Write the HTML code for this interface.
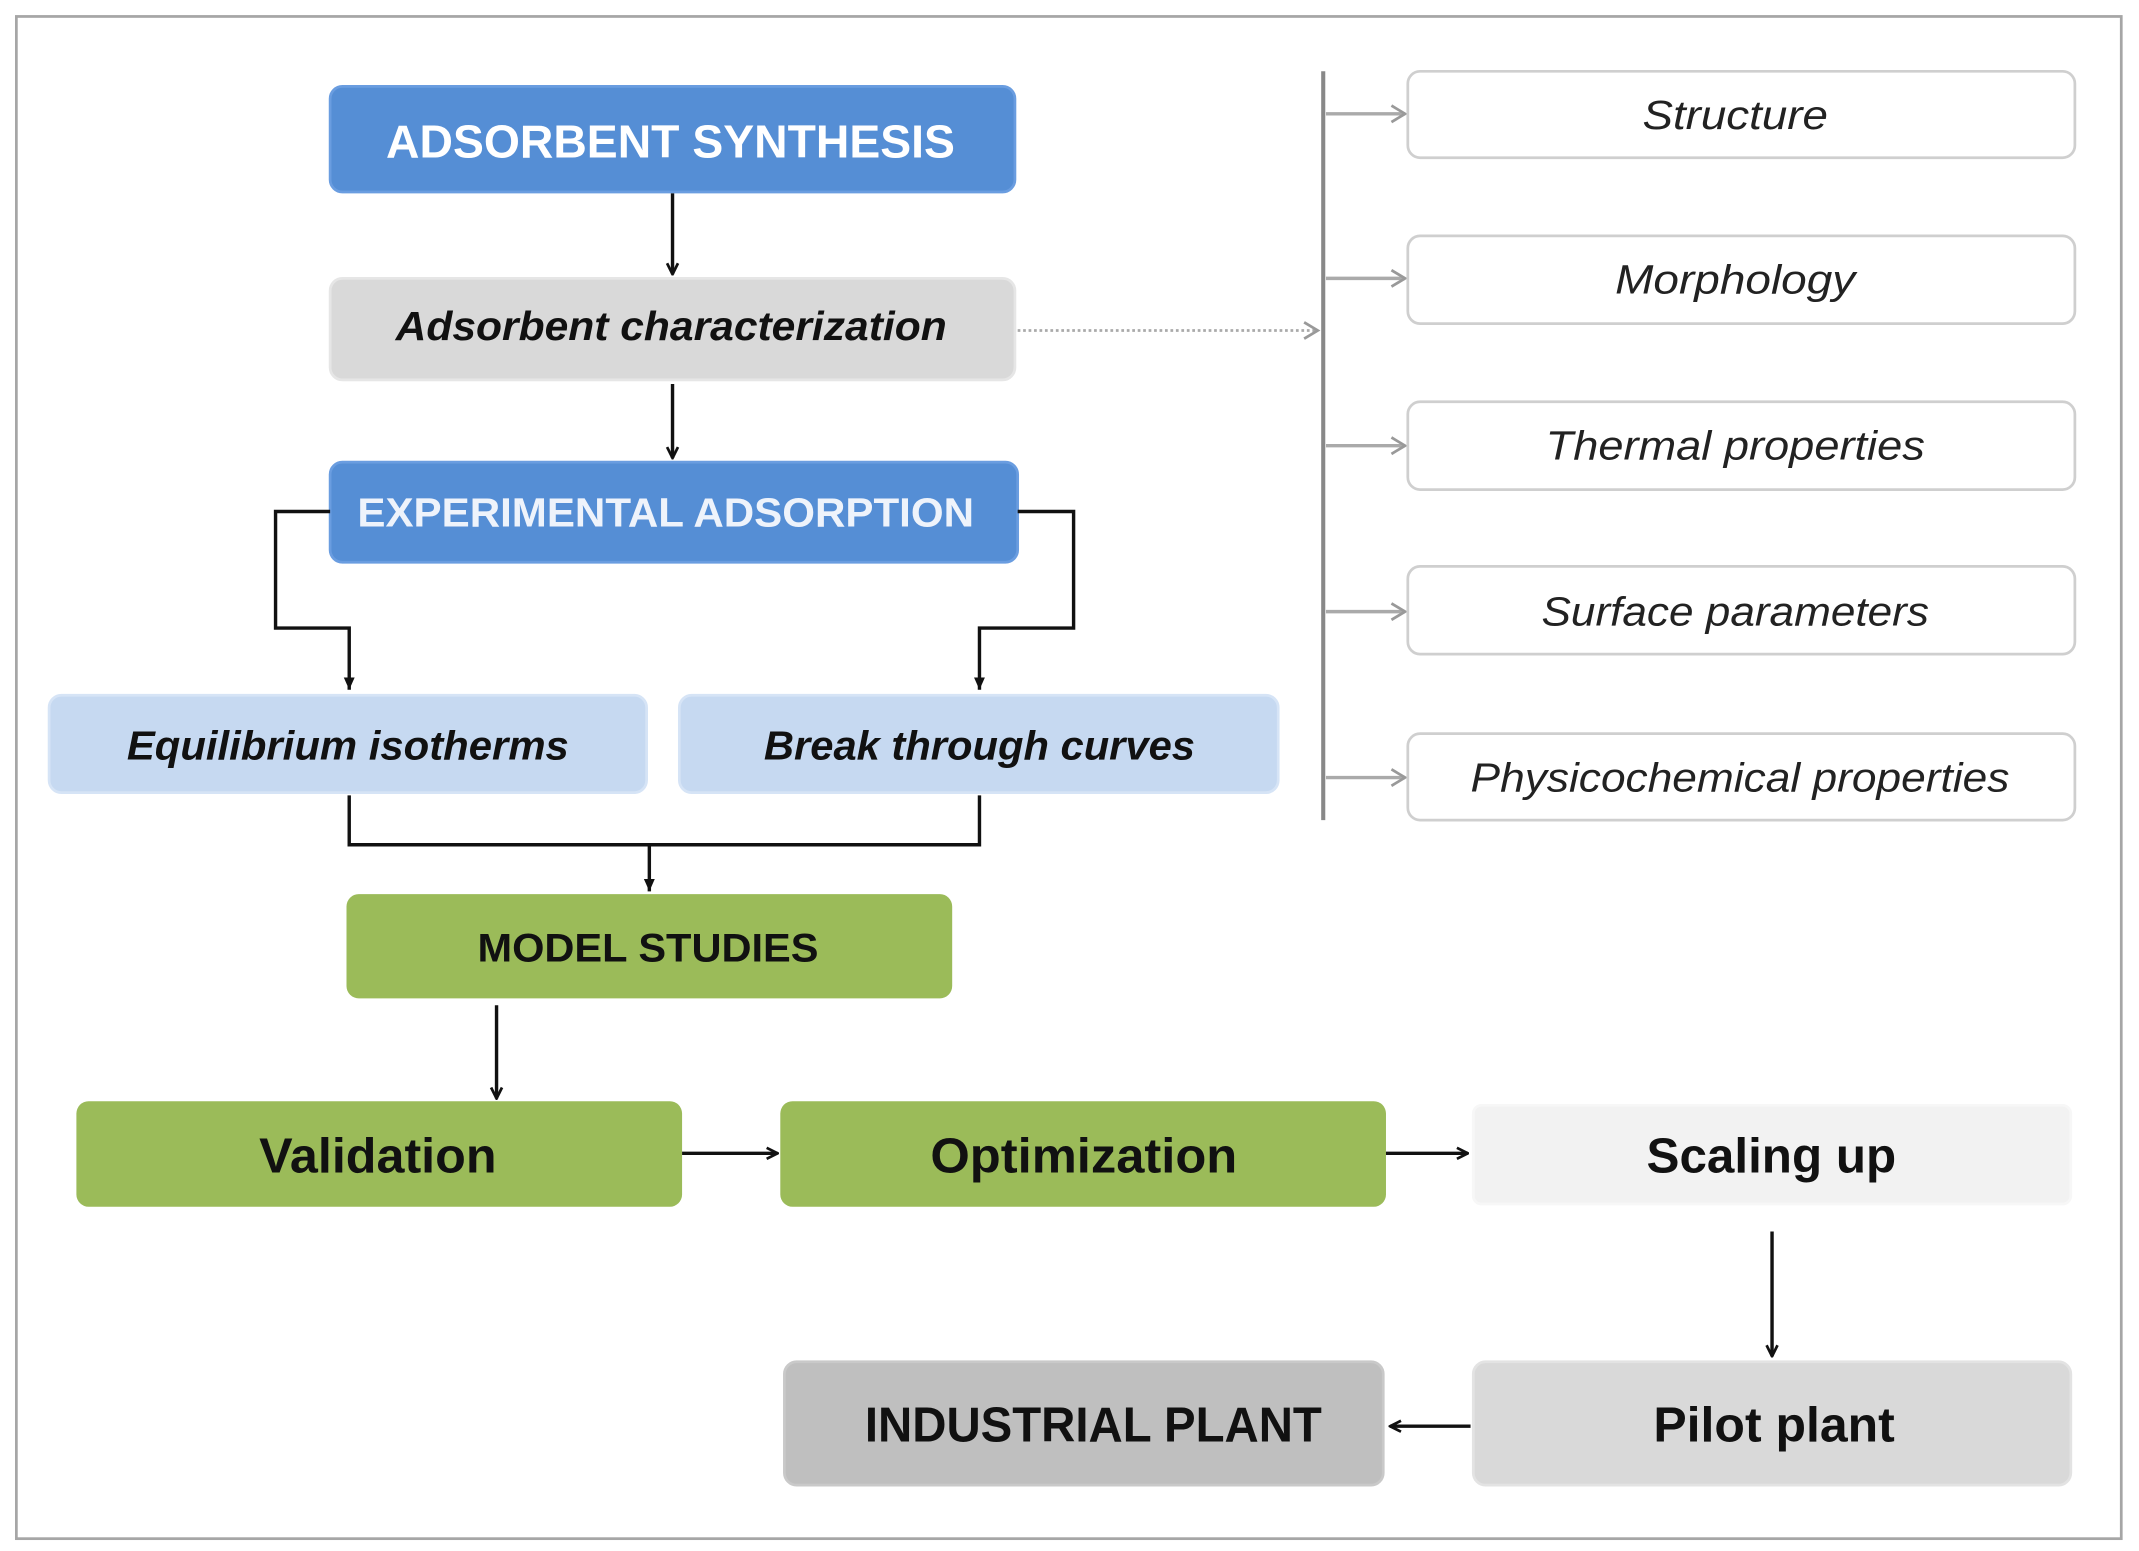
<!DOCTYPE html>
<html><head><meta charset="utf-8"><style>html,body{margin:0;padding:0;background:#fff}svg{display:block}</style></head>
<body>
<svg width="2139" height="1551" viewBox="0 0 1568 1131" preserveAspectRatio="none" xmlns="http://www.w3.org/2000/svg" font-family="Liberation Sans, sans-serif">
<defs>
<marker id="ab" markerWidth="10" markerHeight="10" refX="9" refY="5" orient="auto" markerUnits="userSpaceOnUse"><path d="M1,1 L9,5 L1,9" fill="none" stroke="#111" stroke-width="2"/></marker>
<marker id="af" markerWidth="10" markerHeight="10" refX="9" refY="5" orient="auto" markerUnits="userSpaceOnUse"><path d="M0,1 L9,5 L0,9 Z" fill="#111"/></marker>
<marker id="ag" markerWidth="14" markerHeight="14" refX="12" refY="7" orient="auto" markerUnits="userSpaceOnUse"><path d="M2,1 L12,7 L2,13" fill="none" stroke="#999" stroke-width="2"/></marker>
</defs>
<rect x="12" y="12" width="1543" height="1110" fill="#fff" stroke="#a6a6a6" stroke-width="2"/>

<!-- left column boxes -->
<rect x="242" y="63" width="502" height="77" rx="9" fill="#558ed5" stroke="#6a9de0" stroke-width="2"/>
<text x="283" y="115" textLength="417" lengthAdjust="spacingAndGlyphs" font-size="34" font-weight="bold" fill="#fff">ADSORBENT SYNTHESIS</text>

<rect x="242" y="203" width="502" height="74" rx="9" fill="#d9d9d9" stroke="#e6e6e6" stroke-width="2"/>
<text x="290" y="248" textLength="404" lengthAdjust="spacingAndGlyphs" font-size="30" font-weight="bold" font-style="italic" fill="#111">Adsorbent characterization</text>

<rect x="242" y="337" width="504" height="73" rx="9" fill="#558ed5" stroke="#6a9de0" stroke-width="2"/>
<text x="262" y="384" textLength="452" lengthAdjust="spacingAndGlyphs" font-size="30" font-weight="bold" fill="#eef3fb">EXPERIMENTAL  ADSORPTION</text>

<rect x="36" y="507" width="438" height="71" rx="9" fill="#c6d9f1" stroke="#d6e4f6" stroke-width="2"/>
<text x="93" y="554" textLength="324" lengthAdjust="spacingAndGlyphs" font-size="30" font-weight="bold" font-style="italic" fill="#111">Equilibrium isotherms</text>
<rect x="498" y="507" width="439" height="71" rx="9" fill="#c6d9f1" stroke="#d6e4f6" stroke-width="2"/>
<text x="560" y="554" textLength="316" lengthAdjust="spacingAndGlyphs" font-size="30" font-weight="bold" font-style="italic" fill="#111">Break through curves</text>

<rect x="254" y="652" width="444" height="76" rx="9" fill="#9bbb59"/>
<text x="350" y="701" textLength="250" lengthAdjust="spacingAndGlyphs" font-size="29" font-weight="bold" fill="#111">MODEL STUDIES</text>

<rect x="56" y="803" width="444" height="77" rx="9" fill="#9bbb59"/>
<text x="190" y="855" textLength="174" lengthAdjust="spacingAndGlyphs" font-size="36" font-weight="bold" fill="#111">Validation</text>
<rect x="572" y="803" width="444" height="77" rx="9" fill="#9bbb59"/>
<text x="682" y="855" textLength="225" lengthAdjust="spacingAndGlyphs" font-size="36" font-weight="bold" fill="#111">Optimization</text>
<rect x="1080" y="806" width="438" height="72" rx="6" fill="#f2f2f2" stroke="#f7f7f7" stroke-width="2"/>
<text x="1207" y="855" textLength="183" lengthAdjust="spacingAndGlyphs" font-size="36" font-weight="bold" fill="#111">Scaling  up</text>

<rect x="575" y="993" width="439" height="90" rx="9" fill="#bfbfbf" stroke="#c9c9c9" stroke-width="2"/>
<text x="634" y="1051" textLength="335" lengthAdjust="spacingAndGlyphs" font-size="36" font-weight="bold" fill="#111">INDUSTRIAL PLANT</text>
<rect x="1080" y="993" width="438" height="90" rx="9" fill="#d9d9d9" stroke="#e3e3e3" stroke-width="2"/>
<text x="1212" y="1051" textLength="177" lengthAdjust="spacingAndGlyphs" font-size="36" font-weight="bold" fill="#111">Pilot plant</text>

<!-- connectors -->
<g stroke="#111" stroke-width="2.5" fill="none">
<line x1="493" y1="141" x2="493" y2="200" marker-end="url(#ab)"/>
<line x1="493" y1="280" x2="493" y2="334" marker-end="url(#ab)"/>
<polyline points="242,373 202,373 202,458 256,458 256,503" marker-end="url(#af)"/>
<polyline points="746,373 787,373 787,458 718,458 718,503" marker-end="url(#af)"/>
<polyline points="256,580 256,616 718,616 718,580"/>
<line x1="476" y1="616" x2="476" y2="650" marker-end="url(#af)"/>
<line x1="364" y1="733" x2="364" y2="801" marker-end="url(#ab)"/>
<line x1="500" y1="841" x2="570" y2="841" marker-end="url(#ab)"/>
<line x1="1016" y1="841" x2="1076" y2="841" marker-end="url(#ab)"/>
<line x1="1299" y1="898" x2="1299" y2="989" marker-end="url(#ab)"/>
<line x1="1078" y1="1040" x2="1019" y2="1040" marker-end="url(#ab)"/>
</g>

<!-- right side -->
<line x1="970" y1="52" x2="970" y2="598" stroke="#888" stroke-width="3"/>
<line x1="746" y1="241" x2="966" y2="241" stroke="#aaa" stroke-width="2" stroke-dasharray="2,2" marker-end="url(#ag)"/>
<g stroke="#aaa" stroke-width="2.5" fill="none">
<line x1="972" y1="83" x2="1030" y2="83" marker-end="url(#ag)"/>
<line x1="972" y1="203" x2="1030" y2="203" marker-end="url(#ag)"/>
<line x1="972" y1="325" x2="1030" y2="325" marker-end="url(#ag)"/>
<line x1="972" y1="446" x2="1030" y2="446" marker-end="url(#ag)"/>
<line x1="972" y1="567" x2="1030" y2="567" marker-end="url(#ag)"/>
</g>
<g fill="#fff" stroke="#cfcfcf" stroke-width="2">
<rect x="1032" y="52" width="489" height="63" rx="9"/>
<rect x="1032" y="172" width="489" height="64" rx="9"/>
<rect x="1032" y="293" width="489" height="64" rx="9"/>
<rect x="1032" y="413" width="489" height="64" rx="9"/>
<rect x="1032" y="535" width="489" height="63" rx="9"/>
</g>
<g font-size="30" font-style="italic" fill="#222">
<text x="1204" y="94" textLength="136" lengthAdjust="spacingAndGlyphs">Structure</text>
<text x="1184" y="214" textLength="176" lengthAdjust="spacingAndGlyphs">Morphology</text>
<text x="1133" y="335" textLength="278" lengthAdjust="spacingAndGlyphs">Thermal properties</text>
<text x="1130" y="456" textLength="284" lengthAdjust="spacingAndGlyphs">Surface parameters</text>
<text x="1078" y="577" textLength="395" lengthAdjust="spacingAndGlyphs">Physicochemical properties</text>
</g>
</svg>
</body></html>
